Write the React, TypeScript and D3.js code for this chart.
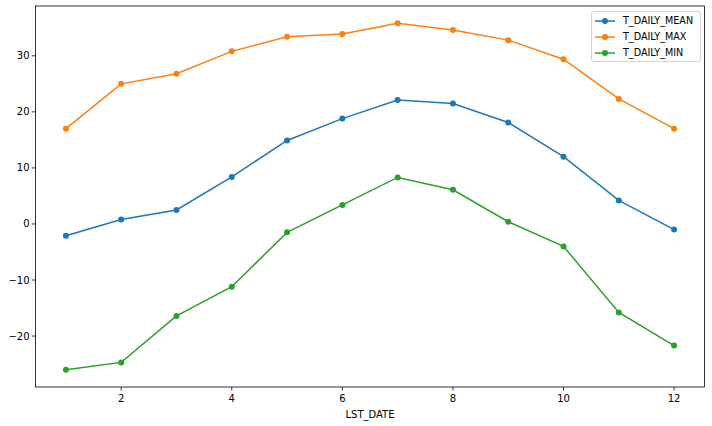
import React from "react";
import * as d3 from "d3";

const months = [1, 2, 3, 4, 5, 6, 7, 8, 9, 10, 11, 12];
const tMean = [-2.1, 0.8, 2.5, 8.4, 14.9, 18.8, 22.1, 21.5, 18.1, 12.0, 4.2, -1.0];
const tMax = [17.0, 25.0, 26.8, 30.8, 33.4, 33.9, 35.8, 34.6, 32.8, 29.4, 22.3, 17.0];
const tMin = [-26.0, -24.7, -16.4, -11.2, -1.5, 3.4, 8.3, 6.1, 0.4, -4.0, -15.8, -21.7];
const seriesNames = ["T_DAILY_MEAN", "T_DAILY_MAX", "T_DAILY_MIN"];
const xTicks = [2, 4, 6, 8, 10, 12];
const yTicks = [-20, -10, 0, 10, 20, 30];
const xLabel = "LST_DATE";

const colors = ["#1f77b4", "#ff7f0e", "#2ca02c"];

export default function App() {
  const W = 712, H = 426;
  const left = 35.5, right = 704.5, top = 6, bottom = 387;
  const allSeries = [tMean, tMax, tMin];
  const allVals = allSeries.flat();
  const vmin = d3.min(allVals)!, vmax = d3.max(allVals)!;
  const ypad = (vmax - vmin) * 0.05;
  const xpad = (12 - 1) * 0.05;
  const x = d3.scaleLinear().domain([1 - xpad, 12 + xpad]).range([left, right]);
  const y = d3.scaleLinear().domain([vmin - ypad, vmax + ypad]).range([bottom, top]);
  const line = d3.line<number>().x((_, i) => x(months[i])).y((d) => y(d));
  const font = "DejaVu Sans, sans-serif";
  const minus = (v: number) => (v < 0 ? "\u2212" + Math.abs(v) : String(v));

  return (
    <svg width={W} height={H} style={{ position: "absolute", left: 0, top: 0 }} fontFamily={font}>
      <rect x={0} y={0} width={W} height={H} fill="#fff" />
      {allSeries.map((s, k) => (
        <g key={k}>
          <path d={line(s)!} fill="none" stroke={colors[k]} strokeWidth={1.5} />
          {s.map((v, i) => (
            <circle key={i} cx={x(months[i])} cy={y(v)} r={3} fill={colors[k]} />
          ))}
        </g>
      ))}
      <rect x={left} y={top} width={right - left} height={bottom - top} fill="none" stroke="#000" strokeWidth={0.8} />
      {xTicks.map((t) => (
        <g key={t} transform={`translate(${x(t)},${bottom})`}>
          <line y2={3.5} stroke="#000" strokeWidth={0.8} />
          <text y={15} textAnchor="middle" fontSize={10} fill="#000">{t}</text>
        </g>
      ))}
      {yTicks.map((t) => (
        <g key={t} transform={`translate(${left},${y(t)})`}>
          <line x2={-3.5} stroke="#000" strokeWidth={0.8} />
          <text x={-6} dy="0.35em" textAnchor="end" fontSize={10} fill="#000">{minus(t)}</text>
        </g>
      ))}
      <text x={(left + right) / 2} y={418} textAnchor="middle" fontSize={10} fill="#000">{xLabel}</text>
      <g>
        <rect x={591.5} y={11.5} width={109} height={50} rx={2.5} fill="#fff" fillOpacity={0.8} stroke="#ccc" strokeWidth={0.8} />
        {seriesNames.map((n, k) => {
          const yy = 21 + k * 16;
          return (
            <g key={n}>
              <line x1={595} x2={615} y1={yy} y2={yy} stroke={colors[k]} strokeWidth={1.5} />
              <circle cx={605} cy={yy} r={3} fill={colors[k]} />
              <text x={623} y={yy} dy="0.35em" fontSize={9.6} fill="#000">{n}</text>
            </g>
          );
        })}
      </g>
    </svg>
  );
}
